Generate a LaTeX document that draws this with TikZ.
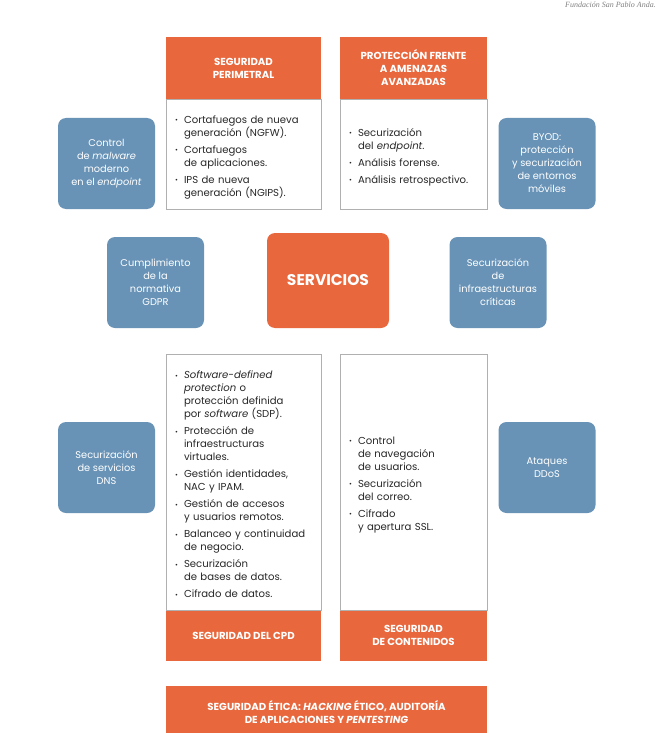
\documentclass[tikz,border=0pt]{standalone}
\usepackage{fontspec}
\setmainfont{Poppins}
\newfontfamily\capfont{Liberation Serif}
\usetikzlibrary{positioning}
\usetikzlibrary{calc}

\definecolor{naranja}{RGB}{232,103,60}
\definecolor{azul}{RGB}{104,147,183}
\definecolor{borde}{RGB}{176,176,176}
\definecolor{texto}{RGB}{40,40,40}

\newcommand{\bitem}[1]{\par\vskip4pt\begingroup\parindent=0pt\parskip=0pt\leftskip=9pt\relax
  \noindent\llap{\makebox[9pt][l]{\raisebox{0.6pt}{\fontsize{7}{7}\selectfont\textbullet}}}%
  \let\\\par #1\par\endgroup}

\begin{document}
\begin{tikzpicture}[x=1pt,y=-1pt,
  head/.style={fill=naranja,text=white,align=center,inner sep=0pt,
    font=\fontsize{10.2}{13}\selectfont\bfseries},
  body/.style={draw=borde,line width=0.7pt,fill=white,inner xsep=9pt,inner ysep=0pt,
    align=left,text=texto,font=\fontsize{10.1}{13}\selectfont},
  caja/.style={fill=azul,rounded corners=8pt,text=white,align=center,inner sep=0pt,
    minimum width=97pt,minimum height=91pt,font=\fontsize{9.8}{13}\selectfont}]
  \useasboundingbox (0,0) rectangle (656,733);

  \node[anchor=north east,text=gray,inner sep=0pt,font=\capfont\itshape\fontsize{8}{8}\selectfont] (fuente) at (656,1.5) {Fundación San Pablo Anda.};

  \node[head,minimum width=155pt,minimum height=62pt] (perimH) at (243.5,68) {SEGURIDAD\\PERIMETRAL};
  \node[body,text width=137pt,minimum height=110pt,below=0pt of perimH] (perimB) {\vskip-4pt
    \bitem{Cortafuegos de nueva\\generación (NGFW).}
    \bitem{Cortafuegos\\de aplicaciones.}
    \bitem{IPS de nueva\\generación (NGIPS).}};

  \node[head,minimum width=147pt,minimum height=62pt] (amenH) at (413.5,68) {PROTECCIÓN FRENTE\\A AMENAZAS\\AVANZADAS};
  \node[body,text width=129pt,minimum height=110pt,below=0pt of amenH] (amenB) {\vskip-4pt
    \bitem{Securización\\del \textit{endpoint}.}
    \bitem{Análisis forense.}
    \bitem{Análisis retrospectivo.}};

  \node[caja] (malware) at (106.5,163.5) {Control\\de \textit{malware}\\moderno\\en el \textit{endpoint}};
  \node[caja] (byod) at (547,163.5) {BYOD:\\protección\\y securización\\de entornos\\móviles};

  \node[caja] (gdpr) at (155.5,282.5) {Cumplimiento\\de la\\normativa\\GDPR};
  \node[caja,minimum width=122pt,minimum height=95pt,fill=naranja,
    font=\fontsize{15.5}{17}\selectfont\bfseries] (servicios) at (328,280.5) {SERVICIOS};
  \node[caja] (criticas) at (498,282.5) {Securización\\de\\infraestructuras\\críticas};

  \node[body,text width=137pt,minimum height=256pt] (cpdB) at (243.5,482) {\vskip-4pt
    \bitem{\textit{Software-defined}\\\textit{protection} o\\protección definida\\por \textit{software} (SDP).}
    \bitem{Protección de\\infraestructuras\\virtuales.}
    \bitem{Gestión identidades,\\NAC y IPAM.}
    \bitem{Gestión de accesos\\y usuarios remotos.}
    \bitem{Balanceo y continuidad\\de negocio.}
    \bitem{Securización\\de bases de datos.}
    \bitem{Cifrado de datos.}};
  \node[head,minimum width=155pt,minimum height=50pt,below=0pt of cpdB] (cpdH) {SEGURIDAD DEL CPD};

  \node[body,text width=129pt,minimum height=256pt] (contB) at (413.5,482) {\vskip-4pt
    \bitem{Control\\de navegación\\de usuarios.}
    \bitem{Securización\\del correo.}
    \bitem{Cifrado\\y apertura SSL.}};
  \node[head,minimum width=147pt,minimum height=50pt,below=0pt of contB] (contH) {SEGURIDAD\\DE CONTENIDOS};

  \node[caja] (dns) at (106.5,467.5) {Securización\\de servicios\\DNS};
  \node[caja] (ddos) at (547,467.5) {Ataques\\DDoS};

  \node[head,minimum width=321pt,minimum height=53pt] (etica) at (326.5,712.5) {SEGURIDAD ÉTICA: \textit{HACKING} ÉTICO, AUDITORÍA\\DE APLICACIONES Y \textit{PENTESTING}};
\end{tikzpicture}
\end{document}
